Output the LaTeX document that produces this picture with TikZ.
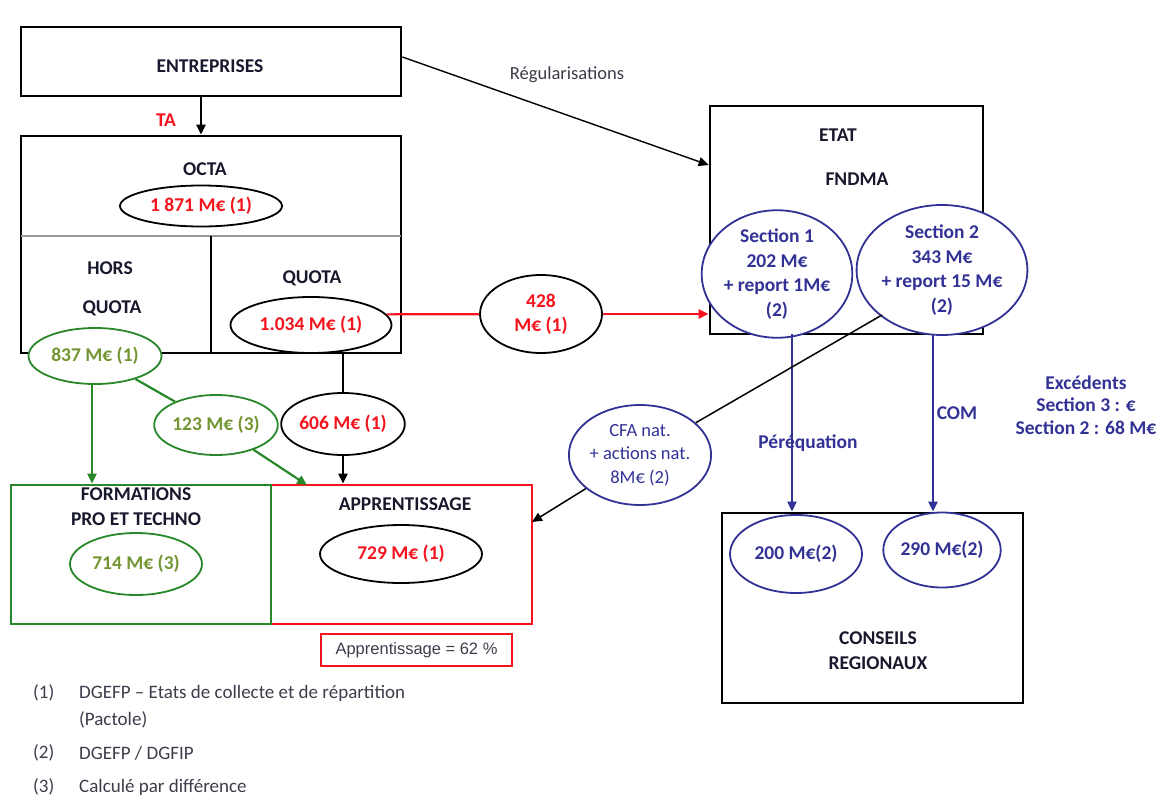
\documentclass[tikz,border=0pt]{standalone}
\usepackage{fontspec}
\setmainfont{Carlito}
\newfontfamily\arialf{Liberation Sans}
\usetikzlibrary{shapes.geometric,arrows.meta}
\definecolor{cred}{RGB}{245,20,30}
\definecolor{cgreen}{RGB}{40,135,40}
\definecolor{colive}{RGB}{115,150,50}
\definecolor{cblue}{RGB}{50,50,150}
\definecolor{cdark}{RGB}{25,25,45}
\definecolor{cgrey}{RGB}{60,60,75}
\begin{document}
\begin{tikzpicture}[x=1pt,y=-1pt,
  box/.style={draw, line width=2.8pt, inner sep=0pt},
  lbl/.style={font=\fontsize{19.5}{24}\selectfont\bfseries, text=cdark, align=center, inner sep=0pt},
  ell/.style={ellipse, draw, fill=white, line width=1.8pt, inner sep=0pt, align=center,
              font=\fontsize{19.5}{24.5}\selectfont\bfseries},
  arr/.style={-{Triangle[length=10pt,width=9pt]}},
  note/.style={font=\fontsize{19}{24}\selectfont, text=cgrey, anchor=west, inner sep=0pt}
]
\useasboundingbox (0,0) rectangle (1159,808);

% ENTREPRISES
\node[box, minimum width=380pt, minimum height=69pt] (ent) at (211,61.5) {};
\node[lbl] (entt) at (210,66) {ENTREPRISES};

% OCTA box
\node[box, minimum width=380pt, minimum height=217pt] (octa) at (211,244.5) {};
\coordinate (dl) at (21,236);
\coordinate (dr) at (401,236);
\coordinate (dt) at (211,236);
\coordinate (db) at (211,353);
\draw[line width=2.6pt, gray!80] (dl) -- (dr);
\draw[line width=2.6pt] (dt) -- (db);
\node[lbl] (octat) at (205,169) {OCTA};
\node[ell, minimum width=162pt, minimum height=41pt, text=cred] (e1871) at (201,206) {1 871 M€ (1)};
\node[lbl] (hors) at (110,268) {HORS};
\node[lbl] (horsq) at (112,308) {QUOTA};
\node[lbl] (quota) at (312,278) {QUOTA};
\node[ell, minimum width=161pt, minimum height=56pt, text=cred] (e1034) at (311,325) {1.034 M€ (1)};
\node[ell, draw=cgreen, minimum width=133pt, minimum height=56pt, text=colive] (e837) at (95,356) {837 M€ (1)};

% TA arrow
\node[lbl, text=cred] (ta) at (166,120) {TA};
\draw[arr, line width=2.6pt] (ent.south -| 201,0) -- (octa.north -| 201,0);

% ETAT
\node[box, minimum width=273pt, minimum height=228pt] (etat) at (846.5,220) {};
\node[lbl] (etatt) at (838,135) {ETAT};
\node[lbl] (fndma) at (857,179) {FNDMA};
\node[ell, draw=cblue, text=cblue, minimum width=130pt, minimum height=118pt] (s1) at (777,274)
  {Section 1\\202 M€\\+ report 1M€\\(2)};
\node[ell, draw=cblue, text=cblue, minimum width=162pt, minimum height=130pt] (s2) at (942,270)
  {Section 2\\343 M€\\+ report 15 M€\\(2)};

% Regularisations
\draw[arr, line width=1.4pt] ([yshift=4.5pt]ent.east) -- ([yshift=55pt]etat.west);
\node[font=\fontsize{18.5}{22}\selectfont, text=cgrey, inner sep=0pt] (regl) at (567,75) {Régularisations};

% red flow
\node[ell, minimum width=122pt, minimum height=78pt, text=cred, font=\fontsize{19.5}{24}\selectfont\bfseries] (e428) at (541,314) {428\\M€ (1)};
\draw[line width=2.2pt, cred] (e1034.8) -- (e428);
\draw[arr, line width=2.2pt, cred] (e428) -- (e428 -| etat.west);

% bottom boxes
\node[box, draw=cred, minimum width=261pt, minimum height=139pt] (app) at (401.5,554.5) {};
\node[box, draw=cgreen, minimum width=260pt, minimum height=139pt] (form) at (141,554.5) {};
\node[lbl] (formt) at (136,494) {FORMATIONS};
\node[lbl] (formt2) at (136,519) {PRO ET TECHNO};
\node[ell, draw=cgreen, text=colive, minimum width=132pt, minimum height=62pt] (e714) at (136,564) {714 M€ (3)};
\node[lbl] (appt) at (405,504) {APPRENTISSAGE};
\node[ell, text=cred, minimum width=162pt, minimum height=58pt] (e729) at (401,554) {729 M€ (1)};
\node[draw=cred, line width=2.8pt, minimum width=191pt, minimum height=32pt, inner sep=0pt,
      font=\arialf\fontsize{16.5}{18}\selectfont, text=cgrey] (pct) at (416.5,650) {Apprentissage = 62 \%};

% green flows
\node[ell, draw=cgreen, text=colive, minimum width=92pt, minimum height=60pt] (e123) at (216,425) {123 M€ (3)};
\draw[arr, line width=2.2pt, cgreen] (e837.south -| 92,0) -- (form.north -| 92,0);
\coordinate (g1) at (307,485);
\draw[line width=2.2pt, cgreen] (e837) -- (e123);
\draw[arr, line width=2.2pt, cgreen] (e123) -- (g1);

% quota -> 606 -> apprentissage
\node[ell, text=cred, minimum width=111pt, minimum height=62pt] (e606) at (343,424) {606 M€ (1)};
\coordinate (qb) at (343,353);
\draw[line width=2.8pt] (qb) -- (e606);
\draw[arr, line width=2.8pt] (e606) -- (e606 |- app.north);

% CONSEILS REGIONAUX
\node[box, minimum width=301pt, minimum height=190pt] (cons) at (872.5,608) {};
\node[lbl] (const) at (878,638) {CONSEILS};
\node[lbl] (const2) at (878,663) {REGIONAUX};
\node[ell, draw=cblue, text=cblue, minimum width=132pt, minimum height=78pt] (e200) at (796,554) {200 M€(2)};
\node[ell, draw=cblue, text=cblue, minimum width=102pt, minimum height=75pt] (e290) at (942,550) {290 M€(2)};

% blue flows
\coordinate (p0) at (792,334);
\coordinate (c0) at (933,335);
\draw[arr, line width=2.2pt, cblue] (p0) -- (p0 |- cons.north);
\draw[arr, line width=2.2pt, cblue] (c0) -- (c0 |- cons.north);
\node[lbl, text=cblue] (pereq) at (808,443) {Péréquation};
\node[lbl, text=cblue] (com) at (957,413) {COM};
\node[lbl, text=cblue, font=\fontsize{19.5}{22.5}\selectfont\bfseries] (exc) at (1086,405) {Excédents\\Section 3 : €\\Section 2 : 68 M€};

% CFA
\node[ell, draw=cblue, text=cblue, font=\fontsize{18.5}{23.5}\selectfont, minimum width=141pt, minimum height=100pt] (cfa) at (640,455) {CFA nat.\\+ actions nat.\\8M€ (2)};
\coordinate (s2o) at (882,315);
\coordinate (appin) at (532,522);
\draw[line width=1.5pt] (s2o) -- (cfa);
\draw[arr, line width=1.5pt] (cfa) -- (appin);

% footnotes
\node[note] (n1) at (33,693) {(1)};
\node[note] (n1t) at (79,693) {DGEFP – Etats de collecte et de répartition};
\node[note] (n1b) at (79,720) {(Pactole)};
\node[note] (n2) at (33,753) {(2)};
\node[note] (n2t) at (79,753) {DGEFP / DGFIP};
\node[note] (n3) at (33,787) {(3)};
\node[note] (n3t) at (79,787) {Calculé par différence};
\end{tikzpicture}
\end{document}
